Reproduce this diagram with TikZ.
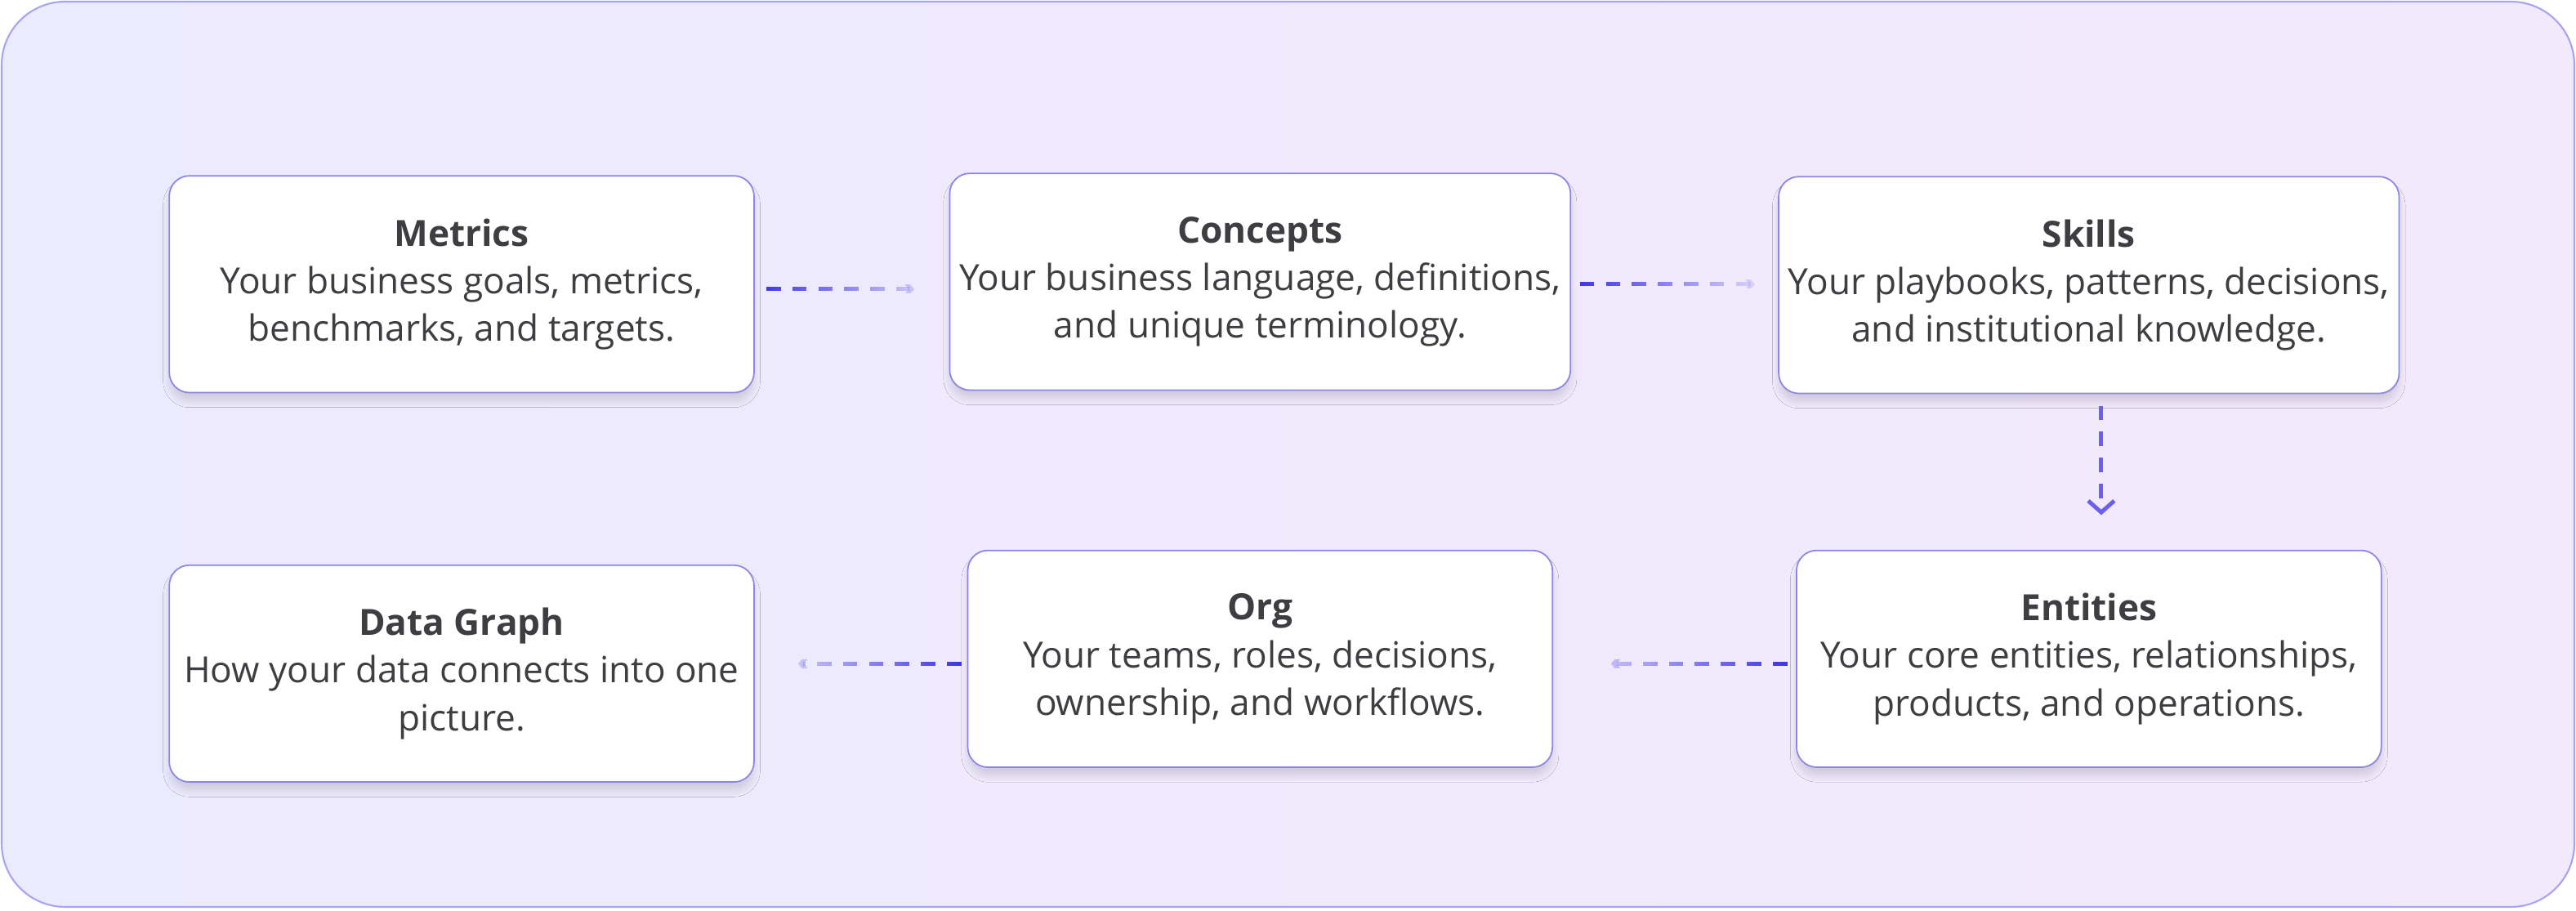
\documentclass[tikz,border=0pt]{standalone}
\usepackage{fontspec}
\setmainfont{Open Sans}
\usetikzlibrary{shadows.blur, fadings, arrows.meta}
\definecolor{frame}{RGB}{169, 164, 240}
\definecolor{bgleft}{RGB}{236, 234, 253}
\definecolor{bgright}{RGB}{243, 233, 252}
\definecolor{edge}{RGB}{140, 134, 230}
\definecolor{ink}{RGB}{62, 62, 66}
\definecolor{flow}{RGB}{55, 45, 232}

\tikzset{
  card/.style={draw=edge, line width=0.5pt, fill=white, rounded corners=7pt,
    minimum width=7.12cm, minimum height=2.64cm, align=center,
    text=ink, font=\fontsize{12.5}{16.5}\selectfont,
    blur shadow={shadow blur steps=8, shadow xshift=0pt, shadow yshift=-3pt,
      shadow opacity=12}},
  flowline/.style={draw=flow, line width=1.4pt, dash pattern=on 5pt off 4pt,
    -{Straight Barb[length=4pt, width=9pt, line width=1.4pt]}}
}

\begin{document}
\begin{tikzpicture}[x=0.02cm, y=-0.02cm]
  \useasboundingbox (0, 0) rectangle (1568, 554.5);
  \shade[left color=bgleft, right color=bgright, draw=frame, line width=0.6pt,
    rounded corners=22pt] (1, 1) rectangle (1567, 552);

  % the six cards
  \node[card] (metrics) at (281, 173)
    {\textbf{Metrics}\\Your business goals, metrics,\\benchmarks, and targets.};
  \node[card] (concepts) at (767, 171.5)
    {\textbf{Concepts}\\Your business language, definitions,\\and unique terminology.};
  \node[card] (skills) at (1271.5, 173.5)
    {\textbf{Skills}\\Your playbooks, patterns, decisions,\\and institutional knowledge.};
  \node[card] (entities) at (1271.5, 401)
    {\textbf{Entities}\\Your core entities, relationships,\\products, and operations.};
  \node[card] (org) at (767, 401)
    {\textbf{Org}\\Your teams, roles, decisions,\\ownership, and workflows.};
  \node[card] (graph) at (281, 410)
    {\textbf{Data Graph}\\How your data connects into one\\picture.};

  % flow
  \draw[flowline, path fading=east, shorten <=4pt, shorten >=12pt]
    (metrics.east |- 0, 176) -- (concepts.west |- 0, 176);
  \draw[flowline, path fading=east, shorten <=3pt, shorten >=8pt]
    (concepts.east |- 0, 173) -- (skills.west |- 0, 173);
  \draw[flowline, draw=flow!75, shorten <=4pt, shorten >=12pt]
    (skills.south -| 1279, 0) -- (entities.north -| 1279, 0);
  \draw[flowline, path fading=west, shorten <=3pt, shorten >=20pt]
    (entities.west |- 0, 404) -- (org.east |- 0, 404);
  \draw[flowline, path fading=west, shorten <=2pt, shorten >=15pt]
    (org.west |- 0, 404) -- (graph.east |- 0, 404);
\end{tikzpicture}
\end{document}
